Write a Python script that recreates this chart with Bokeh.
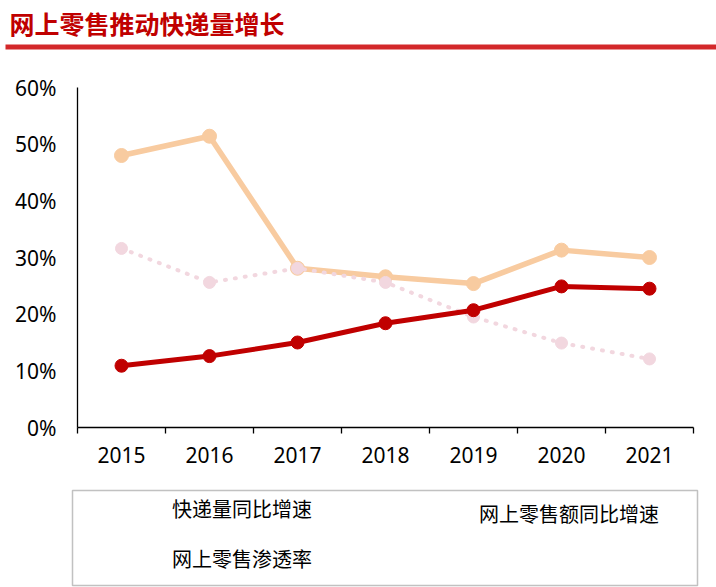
from bokeh.plotting import figure
from bokeh.layouts import column
from bokeh.models import (Range1d, LinearAxis, FixedTicker,
                          PrintfTickFormatter, Legend, LegendItem, BoxAnnotation, Label)
from bokeh.embed import file_html
from bokeh.resources import INLINE

# ---- data ----
years = ["2015", "2016", "2017", "2018", "2019", "2020", "2021"]
express_growth = [48.0, 51.4, 28.1, 26.6, 25.4, 31.3, 30.0]      # 快递量同比增速
online_sales_growth = [31.6, 25.6, 28.1, 25.6, 19.5, 14.9, 12.1]  # 网上零售额同比增速
online_penetration = [10.9, 12.6, 15.0, 18.4, 20.7, 24.9, 24.5]   # 网上零售渗透率
y_ticks = [0, 10, 20, 30, 40, 50, 60]
series_names = ["快递量同比增速", "网上零售额同比增速", "网上零售渗透率"]
title_text = "网上零售推动快递量增长"

ORANGE = "#F8CBA0"
PINK = "#F2D7DF"
RED = "#C00000"
FONT = "Noto Sans"
CJK = "Noto Sans CJK SC"
W = 716
TH = 52      # title strip height
MH = 428     # main chart height
LH = 107     # legend strip height

styles = [dict(line_color=ORANGE, line_width=5.5),
          dict(line_color=PINK, line_width=4, line_dash="1 9", line_cap="round"),
          dict(line_color=RED, line_width=5)]
marker_colors = [ORANGE, PINK, RED]
marker_sizes = [14, 12, 13]


def strip(height):
    f = figure(width=W, height=height, x_range=Range1d(0, W), y_range=Range1d(height, 0),
               min_border=0, x_axis_type=None, y_axis_type=None,
               toolbar_location=None, output_backend="svg")
    f.frame_align = False
    f.outline_line_color = None
    f.xgrid.visible = False
    f.ygrid.visible = False
    return f


# ---- title strip ----
t = strip(TH)
t.add_layout(Label(x=9, y=22, text=title_text, text_font=CJK, text_font_style="bold",
                   text_font_size="25px", text_color=RED, text_baseline="middle", text_align="left"))
t.add_layout(BoxAnnotation(left=5, right=W, top=44, bottom=49,
                           fill_color="#D3282A", fill_alpha=1, line_color=None))

# ---- main chart ----
n = len(years)
xc = [i + 0.5 for i in range(n)]  # category centres on a 0..n band scale

p = figure(x_range=Range1d(0, n), y_range=Range1d(0, 60),
           frame_width=616, frame_height=340,
           min_border_left=77, min_border_right=23, min_border_top=35, min_border_bottom=MH - 375,
           x_axis_type=None, y_axis_type=None,
           toolbar_location=None, output_backend="svg")
p.frame_align = False
p.outline_line_color = None
p.xgrid.visible = False
p.ygrid.visible = False

yax = LinearAxis(ticker=FixedTicker(ticks=y_ticks), formatter=PrintfTickFormatter(format="%d%%"))
yax.major_tick_out = 0
yax.major_tick_in = 0
yax.minor_tick_out = 0
yax.minor_tick_in = 0
yax.axis_line_color = "black"
yax.axis_line_width = 1.3
yax.major_label_standoff = 21
yax.major_label_text_font = FONT
yax.major_label_text_font_size = "21px"
yax.major_label_text_color = "black"
p.add_layout(yax, "left")

bax = LinearAxis(ticker=FixedTicker(ticks=list(range(n + 1))))
bax.major_tick_out = 6
bax.major_tick_in = 0
bax.minor_tick_out = 0
bax.minor_tick_in = 0
bax.major_tick_line_width = 1.3
bax.axis_line_width = 1.3
bax.axis_line_color = "black"
bax.major_label_text_font_size = "0px"
bax.major_label_standoff = 0
p.add_layout(bax, "below")

cax = LinearAxis(ticker=FixedTicker(ticks=xc),
                 major_label_overrides={x: y for x, y in zip(xc, years)})
cax.axis_line_color = None
cax.major_tick_line_color = None
cax.minor_tick_line_color = None
cax.major_tick_out = 0
cax.major_label_standoff = 13
cax.major_label_text_font = FONT
cax.major_label_text_font_size = "21px"
cax.major_label_text_color = "black"
p.add_layout(cax, "below")

series = [express_growth, online_sales_growth, online_penetration]
for vals, st, mc, ms in zip(series, styles, marker_colors, marker_sizes):
    p.line(xc, vals, **st)
    p.scatter(xc, vals, size=ms, fill_color=mc, line_color=mc)

# ---- legend strip ----
lg = strip(LH)
lg.add_layout(BoxAnnotation(left=72, right=697, top=10, bottom=105,
                            fill_alpha=0, line_color="#333333", line_width=1.5))
swatches = []
for st, mc, ms in zip(styles, marker_colors, marker_sizes):
    lr = lg.line(x=[], y=[], **st)
    sr = lg.scatter(x=[], y=[], size=ms, fill_color=mc, line_color=mc)
    swatches.append([lr, sr])

common = dict(orientation="vertical", glyph_width=67, glyph_height=24, label_height=24,
              label_standoff=7, spacing=21, padding=0, margin=0,
              border_line_alpha=0, background_fill_alpha=0,
              label_text_font=CJK, label_text_font_size="20px", label_text_color="black")
leg_a = Legend(items=[LegendItem(label=series_names[0], renderers=swatches[0]),
                      LegendItem(label=series_names[2], renderers=swatches[2])],
               location=(98, 14), **common)
leg_b = Legend(items=[LegendItem(label=series_names[1], renderers=swatches[1])],
               location=(405, 59), **common)
lg.add_layout(leg_a, "center")
lg.add_layout(leg_b, "center")

layout = column(t, p, lg, spacing=0)
open("out.html", "w").write(file_html(layout, INLINE))
